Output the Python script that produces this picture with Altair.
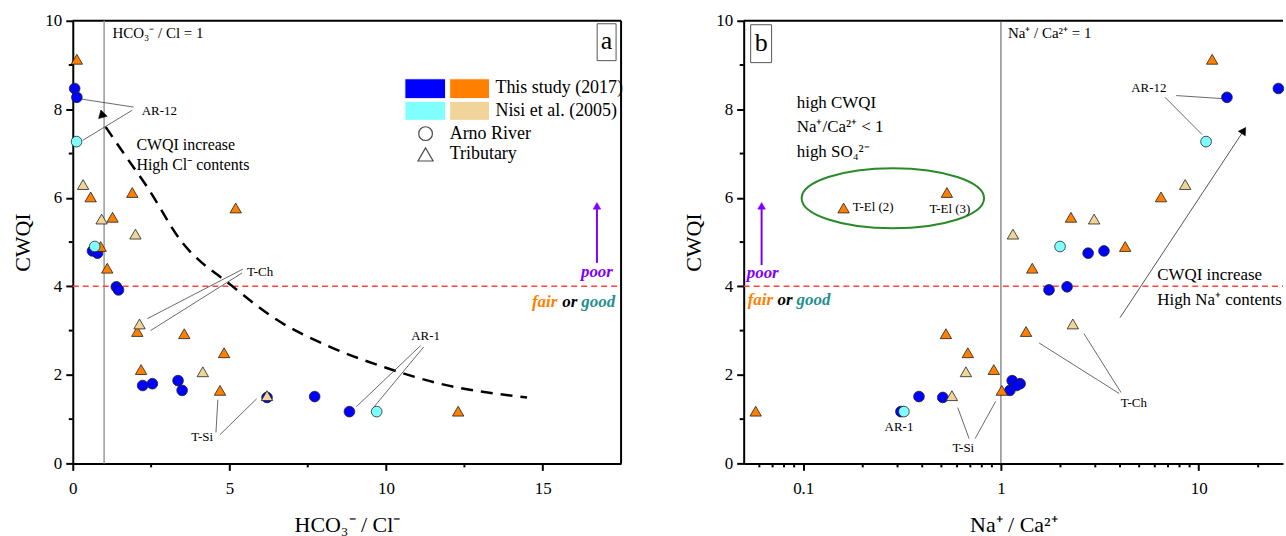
import altair as alt
import pandas as pd

FONT = "Liberation Serif"
W, H = 550, 444
WB = 541

# ---------------- data ----------------
# Arno River, this study (2017)
ar17_cwqi = [8.47, 8.27, 4.80, 4.75, 3.99, 3.92, 1.87, 1.65, 1.80, 1.76, 1.51, 1.49, 1.17]
ar17_hco3_cl = [0.06, 0.13, 0.63, 0.79, 1.39, 1.46, 3.36, 3.49, 2.54, 2.23, 7.72, 6.20, 8.83]
ar17_na_ca = [25.3, 13.9, 3.32, 2.76, 2.16, 1.75, 1.14, 1.11, 1.25, 1.20, 0.385, 0.508, 0.312]
# Arno River, Nisi et al. (2005)
ar05_cwqi = [7.27, 4.90, 1.17]
ar05_hco3_cl = [0.12, 0.70, 9.70]
ar05_na_ca = [10.9, 1.99, 0.323]
# Tributaries, this study (2017)
tr17_cwqi = [9.13, 6.02, 6.12, 5.77, 5.56, 4.90, 4.41, 2.98, 2.93, 2.50, 2.12, 1.65, 1.18]
tr17_hco3_cl = [0.13, 0.57, 1.90, 5.20, 1.27, 0.89, 1.10, 2.06, 3.56, 4.83, 2.18, 4.70, 12.3]
tr17_na_ca = [11.7, 6.45, 0.533, 0.160, 2.26, 4.25, 1.44, 1.34, 0.527, 0.68, 0.92, 1.01, 0.0575]
# Tributaries, Nisi et al. (2005)
tr05_cwqi = [6.30, 5.52, 5.18, 3.15, 2.07, 1.53]
tr05_hco3_cl = [0.33, 0.92, 2.00, 2.13, 4.15, 6.20]
tr05_na_ca = [8.55, 2.96, 1.15, 2.31, 0.665, 0.565]

# dashed trend curve in panel a (HCO3/Cl, CWQI)
curve_x = [1.05, 1.70, 2.38, 3.43, 5.10, 6.50, 8.19, 10.0, 11.6, 14.5]
curve_y = [7.60, 6.93, 6.24, 5.05, 4.00, 3.25, 2.64, 2.16, 1.82, 1.49]

y_ticks = [0, 2, 4, 6, 8, 10]
y_minor = [1, 3, 5, 7, 9]
xa_ticks = [0, 5, 10, 15]
xa_minor = [2.5, 7.5, 12.5]
xb_ticks = [0.1, 1, 10]
xb_minor = [0.06, 0.07, 0.08, 0.09, 0.2, 0.3, 0.4, 0.5, 0.6, 0.7, 0.8, 0.9,
            2, 3, 4, 5, 6, 7, 8, 9, 20]

BLUE, ORANGE, CYAN, TAN = "#0000ff", "#ff7f00", "#80ffff", "#f0d49a"
PURPLE, TEAL, RED, GREEN = "#8000ff", "#1f8f8f", "#ff4545", "#2a8a2a"

# ---------------- scales / axes ----------------
def axis_common(**kw):
    return dict(tickSize=7, tickWidth=2, domainWidth=2, domainColor="black",
                tickColor="black", labelColor="black", labelFont=FONT,
                labelFontSize=17, titleFont=FONT, titleFontSize=22,
                titleFontWeight="normal", titleColor="black", grid=False, **kw)

AX_Y = alt.Axis(title="CWQI", values=y_ticks, labelPadding=4, titlePadding=10,
                **axis_common())
AX_XA = alt.Axis(title="HCO₃⁻ / Cl⁻", values=xa_ticks, labelPadding=10,
                 titlePadding=18, labelFlush=False, **axis_common())
AX_XB = alt.Axis(title="Na⁺ / Ca²⁺", values=xb_ticks, labelPadding=10,
                 titlePadding=18, labelFlush=False, format="~g",
                 **axis_common())

SY = alt.Scale(domain=[0, 10], nice=False, zero=False)
SXA = alt.Scale(domain=[0, 17.5], nice=False, zero=False)
SXB = alt.Scale(type="log", domain=[0.05, 26.7], nice=False)


def Y(f="y"):
    return alt.Y(f, type="quantitative", scale=SY, axis=AX_Y)


def XA(f="x"):
    return alt.X(f, type="quantitative", scale=SXA, axis=AX_XA)


def XB(f="x"):
    return alt.X(f, type="quantitative", scale=SXB, axis=AX_XB)


def panel(X, xs_ar17, xs_ar05, xs_tr17, xs_tr05):
    layers = []

    def pts(xs, ys, shape, color, size):
        df = pd.DataFrame({"x": xs, "y": ys})
        return alt.Chart(df).mark_point(filled=True, shape=shape, size=size,
                                        fill=color, stroke="#222222",
                                        strokeWidth=0.8, opacity=1).encode(
            x=X(), y=Y())

    layers.append(pts(xs_ar17, ar17_cwqi, "circle", BLUE, 115))
    layers.append(pts(xs_tr17, tr17_cwqi, "triangle-up", ORANGE, 130))
    layers.append(pts(xs_ar05, ar05_cwqi, "circle", CYAN, 115))
    layers.append(pts(xs_tr05, tr05_cwqi, "triangle-up", TAN, 130))
    return layers


def seg_layer(X, segs, color="#444444", width=0.8, dash=None):
    df = pd.DataFrame(segs, columns=["x", "y", "x2", "y2"])
    kw = dict(color=color, strokeWidth=width)
    if dash:
        kw["strokeDash"] = dash
    return alt.Chart(df).mark_rule(**kw).encode(
        x=X(), y=Y(), x2="x2:Q", y2="y2:Q")


def text_layer(X, rows, size=13, align="left", color="black", style=None,
               weight=None, dx=0, clip=False):
    df = pd.DataFrame(rows, columns=["x", "y", "t"])
    kw = dict(font=FONT, fontSize=size, align=align, baseline="middle",
              color=color, dx=dx, clip=clip)
    if style:
        kw["fontStyle"] = style
    if weight:
        kw["fontWeight"] = weight
    return alt.Chart(df).mark_text(**kw).encode(x=X(), y=Y(), text="t:N")


def head_layer(X, x, y, color, angle=0, size=70):
    df = pd.DataFrame({"x": [x], "y": [y]})
    return alt.Chart(df).mark_point(shape="triangle-up", filled=True, fill=color,
                                    stroke=color, strokeWidth=0.5, size=size,
                                    angle=angle, opacity=1).encode(x=X(), y=Y())


def minor_layers(X, xminor, width):
    ly = alt.Chart(pd.DataFrame({"y": y_minor})).mark_rule(
        color="black", strokeWidth=2).encode(
        y=Y(), x=alt.value(-4), x2=alt.value(0))
    lx = alt.Chart(pd.DataFrame({"x": xminor})).mark_rule(
        color="black", strokeWidth=2).encode(
        x=X(), y=alt.value(H), y2=alt.value(H + 4))
    return [ly, lx]


base_df = pd.DataFrame({"x": [0]})

# ================= panel a =================
La = []
La.append(alt.Chart(base_df).mark_rule(color="black", strokeWidth=2).encode(
    x=alt.value(0), x2=alt.value(W), y=alt.value(0)))
La.append(alt.Chart(base_df).mark_rule(color="black", strokeWidth=2).encode(
    x=alt.value(W), y=alt.value(0), y2=alt.value(H)))
La.append(seg_layer(XA, [(1, 0, 1, 10)], color="#9a9a9a", width=1.5))
La.append(seg_layer(XA, [(0, 4, 17.5, 4)], color=RED, width=1.5, dash=[6, 4]))
La.append(alt.Chart(pd.DataFrame({"x": curve_x, "y": curve_y})).mark_line(
    color="black", strokeWidth=2.5, strokeDash=[12, 8],
    interpolate="monotone").encode(x=XA(), y=Y()))
La.append(head_layer(XA, 0.93, 7.9, "black", angle=345, size=80))
La.append(seg_layer(XA, [
    (0.19, 8.24, 1.94, 8.05), (0.32, 7.30, 1.90, 7.98),
    (2.38, 3.27, 5.43, 4.39), (2.48, 3.00, 5.40, 4.30),
    (4.63, 1.44, 4.57, 0.70), (5.87, 1.46, 4.70, 0.65),
    (9.05, 1.28, 11.1, 2.66), (9.62, 1.28, 11.2, 2.63)]))
La.append(seg_layer(XA, [(16.73, 4.53, 16.73, 5.8)], color=PURPLE, width=2))
La.append(head_layer(XA, 16.73, 5.82, PURPLE, size=60))
La += panel(XA, ar17_hco3_cl, ar05_hco3_cl, tr17_hco3_cl, tr05_hco3_cl)
La.append(text_layer(XA, [(2.2, 7.97, "AR-12"), (5.56, 4.32, "T-Ch")], size=13))
La.append(text_layer(XA, [(4.13, 0.59, "T-Si"), (11.26, 2.88, "AR-1")],
                     size=13, align="center"))
La.append(text_layer(XA, [(2.03, 7.2, "CWQI increase"),
                          (2.03, 6.73, "High Cl⁻ contents")], size=16))
La.append(text_layer(XA, [(1.27, 9.73, "HCO₃⁻ / Cl = 1")], size=15))
La.append(text_layer(XA, [(17.24, 4.32, "poor")], size=17, align="right",
                     color=PURPLE, style="italic", weight="bold"))
La.append(text_layer(XA, [(17.31, 3.65, "good")], size=17, align="right",
                     color=TEAL, style="italic", weight="bold"))
La.append(text_layer(XA, [(17.31, 3.65, "or")], size=17, align="right",
                     color="black", style="italic", weight="bold", dx=-38))
La.append(text_layer(XA, [(17.31, 3.65, "fair")], size=17, align="right",
                     color=ORANGE, style="italic", weight="bold", dx=-58))
# legend of panel a
leg_rect = pd.DataFrame({
    "x": [10.6, 12.03, 10.6, 12.03], "x2": [11.9, 13.3, 11.9, 13.3],
    "y": [8.69, 8.69, 8.18, 8.18], "y2": [8.24, 8.24, 7.75, 7.75],
    "c": ["b", "o", "c", "t"]})
La.append(alt.Chart(leg_rect).mark_rect(stroke="white", strokeWidth=1).encode(
    x=XA(), x2="x2:Q", y=Y(), y2="y2:Q",
    fill=alt.Fill("c:N", scale=alt.Scale(domain=["b", "o", "c", "t"],
                                         range=[BLUE, ORANGE, CYAN, TAN]),
                  legend=None)))
La.append(alt.Chart(pd.DataFrame({"x": [11.26], "y": [7.45]})).mark_point(
    shape="circle", size=190, color="black", strokeWidth=1.2).encode(x=XA(), y=Y()))
La.append(alt.Chart(pd.DataFrame({"x": [11.26], "y": [6.98]})).mark_point(
    shape="triangle-up", size=230, color="black", strokeWidth=1.2).encode(x=XA(), y=Y()))
La.append(text_layer(XA, [(13.49, 8.47, "This study (2017)"),
                          (13.49, 7.95, "Nisi et al. (2005)"),
                          (12.03, 7.45, "Arno River"),
                          (12.03, 6.98, "Tributary")], size=18))
La.append(alt.Chart(base_df).mark_rect(fill="white", stroke="#555555",
                                       strokeWidth=1).encode(
    x=alt.value(526), x2=alt.value(545), y=alt.value(3), y2=alt.value(40)))
La.append(alt.Chart(base_df).mark_text(font=FONT, fontSize=26, align="center",
                                       baseline="middle").encode(
    x=alt.value(535.5), y=alt.value(20), text=alt.value("a")))
La += minor_layers(XA, xa_minor, W)
panel_a = alt.layer(*La).properties(width=W, height=H)

# ================= panel b =================
Lb = []
Lb.append(alt.Chart(base_df).mark_rule(color="black", strokeWidth=2).encode(
    x=alt.value(0), x2=alt.value(WB), y=alt.value(0)))
Lb.append(seg_layer(XB, [(1, 0, 1, 10)], color="#555555", width=1))
Lb.append(seg_layer(XB, [(0.05, 4, 26.7, 4)], color=RED, width=1.5, dash=[6, 4]))
Lb.append(seg_layer(XB, [
    (7.7, 8.31, 13.3, 8.24), (6.76, 8.27, 10.4, 7.43),
    (0.605, 1.26, 0.69, 0.56), (0.94, 1.40, 0.74, 0.56),
    (1.56, 2.72, 3.96, 1.58), (2.63, 2.93, 4.05, 1.60)]))
Lb.append(seg_layer(XB, [(4.0, 3.29, 16.9, 7.52)], color="#555555", width=1))
Lb.append(head_layer(XB, 16.9, 7.52, "black", angle=33, size=70))
Lb.append(seg_layer(XB, [(0.0616, 4.48, 0.0616, 5.8)], color=PURPLE, width=2))
Lb.append(head_layer(XB, 0.0616, 5.82, PURPLE, size=60))
# green ellipse around the T-El samples
Lb.append(alt.Chart(pd.DataFrame({"x": [0.284], "y": [5.99]})).mark_point(
    shape="M-1,0A1,0.33,0,1,1,1,0A1,0.33,0,1,1,-1,0Z", size=183 * 183,
    stroke=GREEN, strokeWidth=2, filled=False, opacity=1).encode(x=XB(), y=Y()))
Lb += panel(XB, ar17_na_ca, ar05_na_ca, tr17_na_ca, tr05_na_ca)
Lb.append(text_layer(XB, [(5.6, 8.47, "AR-12"), (0.305, 0.83, "AR-1"),
                          (0.645, 0.34, "T-Si"), (4.7, 1.37, "T-Ch"),
                          (0.552, 5.74, "T-El (3)")], size=13, align="center"))
Lb.append(text_layer(XB, [(0.178, 5.79, "T-El (2)")], size=13))
Lb.append(text_layer(XB, [(1.085, 9.73, "Na⁺ / Ca²⁺ = 1")], size=15))
Lb.append(text_layer(XB, [(0.0927, 8.15, "high CWQI"),
                          (0.0927, 7.59, "Na⁺/Ca²⁺ < 1"),
                          (0.0927, 7.03, "high SO₄²⁻")], size=17))
Lb.append(text_layer(XB, [(6.17, 4.26, "CWQI increase"),
                          (6.17, 3.69, "High Na⁺ contents")], size=17, clip=True))
Lb.append(text_layer(XB, [(0.0624, 4.3, "poor")], size=17, align="center",
                     color=PURPLE, style="italic", weight="bold"))
Lb.append(text_layer(XB, [(0.0524, 3.69, "fair")], size=17, color=ORANGE,
                     style="italic", weight="bold"))
Lb.append(text_layer(XB, [(0.0524, 3.69, "or")], size=17, color="black",
                     style="italic", weight="bold", dx=30))
Lb.append(text_layer(XB, [(0.0524, 3.69, "good")], size=17, color=TEAL,
                     style="italic", weight="bold", dx=49))
Lb.append(alt.Chart(base_df).mark_rect(fill="white", stroke="#555555",
                                       strokeWidth=1).encode(
    x=alt.value(7), x2=alt.value(28), y=alt.value(4), y2=alt.value(42)))
Lb.append(alt.Chart(base_df).mark_text(font=FONT, fontSize=26, align="center",
                                       baseline="middle").encode(
    x=alt.value(17.5), y=alt.value(22), text=alt.value("b")))
Lb += minor_layers(XB, xb_minor, WB)
panel_b = alt.layer(*Lb).properties(width=WB, height=H)

chart = alt.hconcat(panel_a, panel_b, spacing=60).properties(
    padding={"left": 12, "top": 11, "right": 0, "bottom": 0},
    background="white",
).configure_view(stroke=None)

chart.save("out.html", embed_options={"renderer": "svg", "actions": False})
